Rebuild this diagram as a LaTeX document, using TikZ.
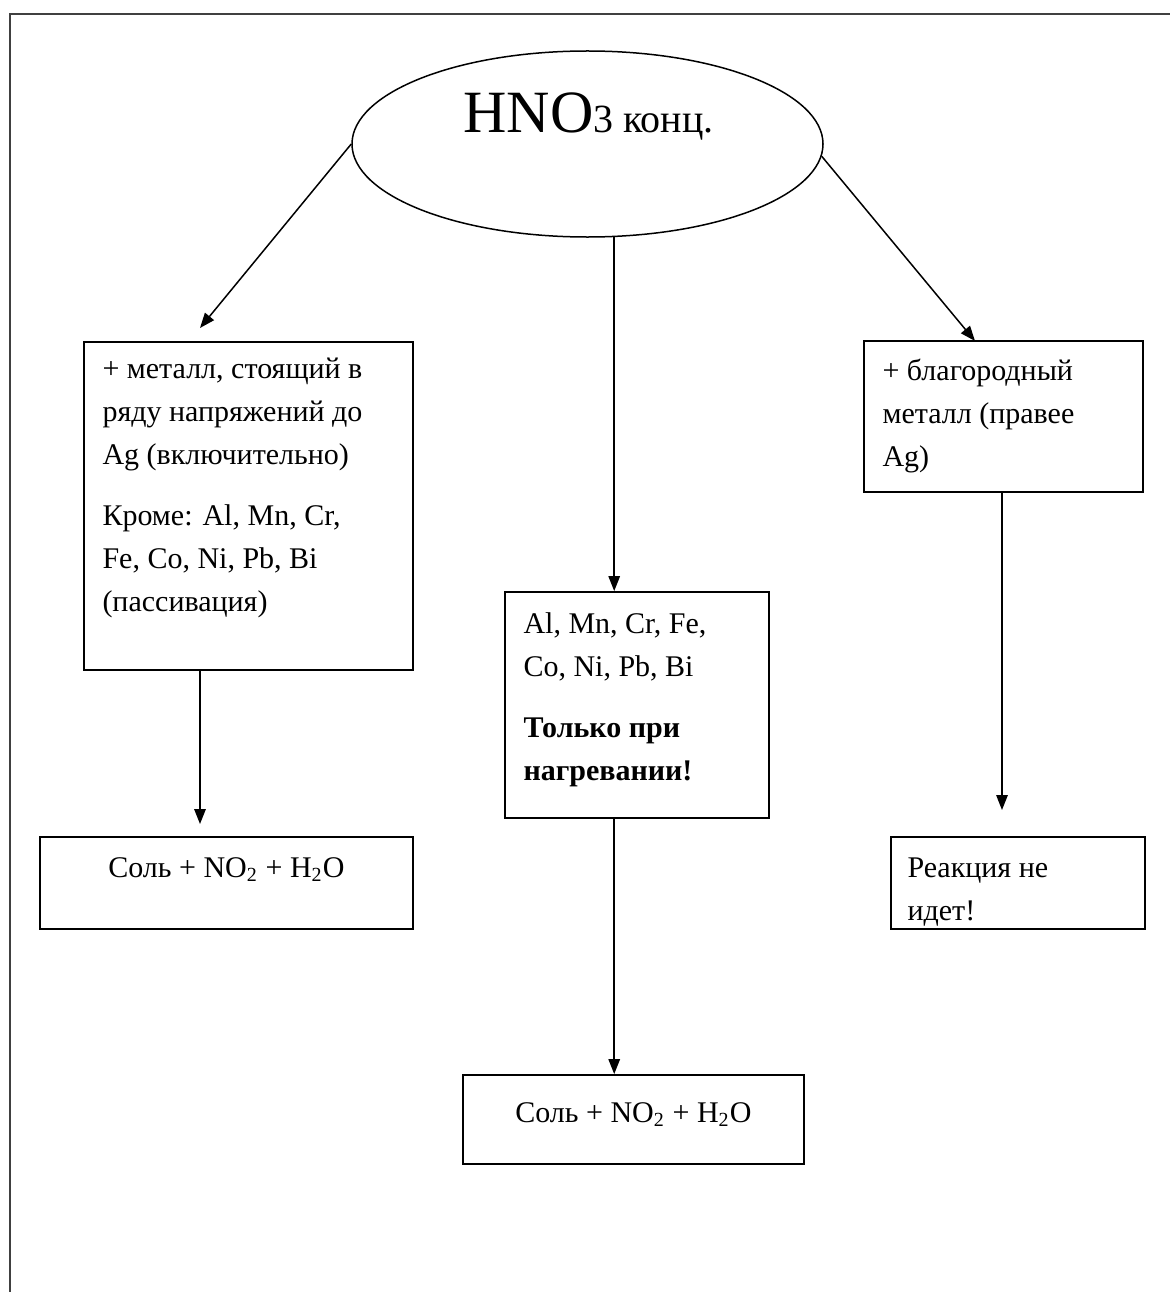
\documentclass[tikz,border=0pt]{standalone}
\usepackage{fontspec}
\setmainfont{Liberation Serif}
\usetikzlibrary{arrows.meta,fit,shapes.geometric}
\begin{document}
\begin{tikzpicture}[x=0.4pt,y=-0.4pt,
  framest/.style={draw=black!75,line width=1pt},
  boxst/.style={draw=black,line width=0.75pt,inner sep=0pt},
  arr/.style={draw=black,line width=0.6pt,-{Triangle[length=6pt,width=4.6pt]}},
  txt/.style={anchor=base west,inner sep=0pt,font=\fontsize{12pt}{14pt}\selectfont},
  ctxt/.style={anchor=base,inner sep=0pt,font=\fontsize{12pt}{14pt}\selectfont}]
\useasboundingbox (0,0) rectangle (1170,1292);
\clip (0,0) rectangle (1170,1292);
\draw[framest] (10,14) rectangle (1200,1330);

% top ellipse
\node[ellipse,draw=black,line width=0.6pt,minimum width=188.4pt,minimum height=74.4pt,inner sep=0pt] (ell) at (587.5,144) {};
\node[anchor=base west,inner sep=0pt] (title) at (463,133)
  {\fontsize{24pt}{28pt}\selectfont HNO\fontsize{16pt}{18pt}\selectfont 3 конц.};

% boxes
\node[boxst,fit={(84,342) (413,670)}] (b1) {};
\node[boxst,fit={(505,592) (769,818)}] (b2) {};
\node[boxst,fit={(864,341) (1143,492)}] (b3) {};
\node[boxst,fit={(40,837) (413,929)}] (b4) {};
\node[boxst,fit={(463,1075) (804,1164)}] (b5) {};
\node[boxst,fit={(891,837) (1145,929)}] (b6) {};

% texts
\node[txt] (l1) at (102,378) {+ металл, стоящий в};
\node[txt] (l2) at (102,421) {ряду напряжений до};
\node[txt] (l3) at (102,464) {Ag (включительно)};
\node[txt] (l4) at (102,525) {Кроме: Al, Mn, Cr,};
\node[txt] (l5) at (102,568) {Fe, Co, Ni, Pb, Bi};
\node[txt] (l6) at (102,611) {(пассивация)};

\node[txt] (c1) at (523,633) {Al, Mn, Cr, Fe,};
\node[txt] (c2) at (523,676) {Co, Ni, Pb, Bi};
\node[txt,font=\fontsize{12pt}{14pt}\selectfont\bfseries] (c3) at (523,737) {Только при};
\node[txt,font=\fontsize{12pt}{14pt}\selectfont\bfseries] (c4) at (523,780) {нагревании!};

\node[txt] (r1) at (882,380) {+ благородный};
\node[txt] (r2) at (882,423) {металл (правее};
\node[txt] (r3) at (882,466) {Ag)};

\node[txt] (n1) at (907,877) {Реакция не};
\node[txt] (n2) at (907,920) {идет!};

\node[ctxt] (s1) at (226.5,877) {Соль + NO\textsubscript{2} + H\textsubscript{2}O};
\node[ctxt] (s2) at (633.5,1122) {Соль + NO\textsubscript{2} + H\textsubscript{2}O};

% connectors
\coordinate (t1) at (200,328);
\coordinate (t3) at (975,341);
\coordinate (t4) at (200,824);
\coordinate (t6) at (1002,810);
\draw[arr] (ell.west) -- (t1);
\draw[arr] (ell.-3.5) -- (t3);
\draw[arr] (ell.-74.6) -- (ell.-74.6 |- b2.north);
\draw[arr] (b1.south -| t4) -- (t4);
\draw[arr] (b3.south -| t6) -- (t6);
\draw[arr] (b2.south -| ell.-74.6) -- (b5.north -| ell.-74.6);
\end{tikzpicture}
\end{document}
